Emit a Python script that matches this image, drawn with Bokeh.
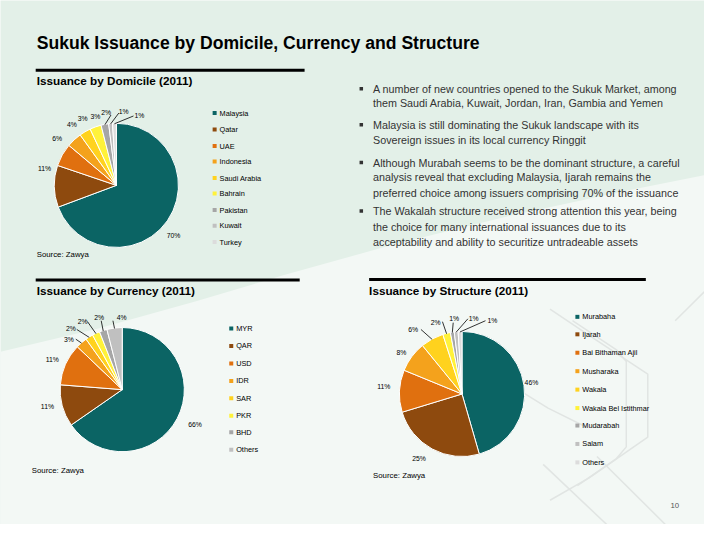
import numpy as np
from bokeh.plotting import figure
from bokeh.models import Range1d
from bokeh.embed import file_html
from bokeh.resources import INLINE
from bokeh.core.properties import value

# ---------------- data ----------------
dom_labels = ["Malaysia", "Qatar", "UAE", "Indonesia", "Saudi Arabia", "Bahrain", "Pakistan", "Kuwait", "Turkey"]
dom_values = [70, 11, 6, 4, 3, 3, 2, 1, 1]

cur_labels = ["MYR", "QAR", "USD", "IDR", "SAR", "PKR", "BHD", "Others"]
cur_values = [66, 11, 11, 3, 2, 2, 2, 4]

str_labels = ["Murabaha", "Ijarah", "Bai Bithaman Ajil", "Musharaka", "Wakala",
              "Wakala Bel Istithmar", "Mudarabah", "Salam", "Others"]
str_values = [46, 25, 11, 8, 6, 2, 1, 1, 1]

bullets = [
    ["A number of new countries opened to the Sukuk Market, among",
     "them Saudi Arabia, Kuwait, Jordan, Iran, Gambia and Yemen"],
    ["Malaysia is still dominating the Sukuk landscape with its",
     "Sovereign issues in its local currency Ringgit"],
    ["Although Murabah seems to be the dominant structure, a careful",
     "analysis reveal that excluding Malaysia, Ijarah remains the",
     "preferred choice among issuers comprising 70% of the issuance"],
    ["The Wakalah structure received strong attention this year, being",
     "the choice for many international issuances due to its",
     "acceptability and ability to securitize untradeable assets"],
]

# ---------------- styles ----------------
PAL9 = ["#0B6464", "#8E4A0E", "#E0700F", "#F4A21C", "#FFD21E", "#FFF23A", "#A6A6A6", "#C0C0C0", "#DCDCDC"]
PAL8 = ["#0B6464", "#8E4A0E", "#E0700F", "#F4A21C", "#FFD21E", "#FFF23A", "#A6A6A6", "#C0C0C0"]
FONT = value("Liberation Sans")
H = 540
S = 704 / 720.0  # pixel scale of the slide inside the figure

p = figure(width=704, height=524, output_backend="svg", toolbar_location=None,
           x_range=Range1d(0, 720), y_range=Range1d(0, 540), min_border=0)
p.axis.visible = False
p.grid.visible = False
p.outline_line_color = None
p.background_fill_color = "#E3F0E8"
p.border_fill_color = "#E3F0E8"

# lighter lower background region
cx_bg = [0, 100, 200, 290, 400, 520, 640, 720, 720, 0]
cy_bg = [362, 338, 310, 283, 252, 222, 196, 180, 540, 540]
p.patch(x=cx_bg, y=[H - v for v in cy_bg], fill_color="#F3F8F5", line_color=None)

# faint watermark
wm = "#E1E5E3"
for xs, ys in [
    ([562, 602, 662, 662, 602, 562], [318, 345, 385, 450, 492, 515]),
    ([585, 630, 640, 640, 630, 590], [330, 360, 372, 460, 472, 500]),
    ([520, 560, 600], [395, 420, 440]),
    ([555, 620], [478, 540]),
    ([610, 680], [470, 540]),
    ([690, 720], [330, 300]),
]:
    p.line(x=xs, y=[H - v for v in ys], line_color=wm, line_width=1.5)


def txt(x, y, s, size, bold=False, color="#000000", align="left"):
    p.text(x=[x], y=[H - y], text=[s], text_font=FONT, text_font_size=f"{size * S:.2f}px",
           text_font_style="bold" if bold else "normal", text_color=color,
           text_align=align, text_baseline="middle")


def pie(cx, cy, r, vals, colors, lab_pos, leader_starts):
    v = np.array(vals, dtype=float)
    frac = v / v.sum()
    c1 = np.cumsum(frac)
    c0 = c1 - frac
    start = np.pi / 2 - 2 * np.pi * c1
    end = np.pi / 2 - 2 * np.pi * c0
    p.wedge(x=[cx] * len(v), y=[H - cy] * len(v), radius=r, start_angle=start, end_angle=end,
            direction="anticlock", fill_color=colors, line_color="white", line_width=1)
    mid = (start + end) / 2
    for i, val in enumerate(vals):
        lx, ly = lab_pos[i]
        txt(lx, ly, f"{val}%", 7, align="center")
        if leader_starts[i] is not None:
            sx, sy = leader_starts[i]
            ex = cx + r * np.cos(mid[i])
            ey = (H - cy) + r * np.sin(mid[i])
            p.line(x=[sx, ex], y=[H - sy, ey], line_color="#000000", line_width=0.8)


def legend(x, ys, labels, colors):
    p.scatter(x=[x] * len(labels), y=[H - y for y in ys], marker="square", size=4,
              fill_color=colors, line_color=None)
    for y, lab in zip(ys, labels):
        txt(x + 5, y, lab, 7.5)


# ---------------- titles ----------------
txt(37, 44, "Sukuk Issuance by Domicile, Currency and Structure", 18, bold=True)
for x0, x1, y in [(36, 311, 72), (36, 306, 288), (377, 660, 287.5)]:
    p.line(x=[x0, x1], y=[H - y, H - y], line_color="#000000", line_width=3)
txt(37, 82.5, "Issuance by Domicile (2011)", 12, bold=True)
txt(37, 299, "Issuance by Currency (2011)", 12, bold=True)
txt(377, 299, "Issuance by Structure (2011)", 12, bold=True)

# ---------------- domicile pie ----------------
pie(118.5, 190.5, 63.5, dom_values, PAL9,
    [(177, 242), (45, 173), (58, 142), (73, 128), (84, 122), (97, 120), (108, 115), (126, 114), (142, 119)],
    [None, None, None, None, None, None, (113, 118), (121, 116), (136, 119)])
legend(219, [116, 133, 150, 166, 183, 199, 216, 232, 249], dom_labels, PAL9)
txt(37, 262, "Source: Zawya", 8)

# ---------------- currency pie ----------------
pie(124.5, 401, 63.5, cur_values, PAL8,
    [(199, 437), (48, 418), (53, 370), (70, 349), (72, 338), (84, 331), (101, 327), (124, 327)],
    [None, None, None, (77, 349), (78, 339), (89, 331), (103, 330), (115, 330)])
legend(236, [338, 356, 374, 392, 410, 428, 445, 463], cur_labels, PAL8)
txt(32, 484, "Source: Zawya", 8)

# ---------------- structure pie ----------------
pie(472, 405.5, 64, str_values, PAL9,
    [(543, 394), (428, 472), (392, 398), (410, 363), (422, 339), (445, 332), (464, 328), (484, 328), (503, 330)],
    [None, None, None, None, (430, 339), (452, 331), (463, 332), (478, 328), (496, 330)])
legend(590, [326, 344, 363, 382, 401, 420, 438, 457, 476], str_labels, PAL9)
txt(381, 490, "Source: Zawya", 8)

# ---------------- bullet text ----------------
line_ys = [[91, 106], [128, 144], [167, 182, 198], [217, 233, 249]]
for lines, ys in zip(bullets, line_ys):
    p.scatter(x=[369], y=[H - ys[0]], marker="square", size=3.5, fill_color="#333333", line_color=None)
    for s, y in zip(lines, ys):
        txt(381, y, s, 11, color="#333333")

txt(694, 520, "10", 8, color="#555555", align="right")

html = file_html(p, INLINE)
html = html.replace("<body>", '<body style="background-color:#E8F2EC">', 1)
open("out.html", "w").write(html)
